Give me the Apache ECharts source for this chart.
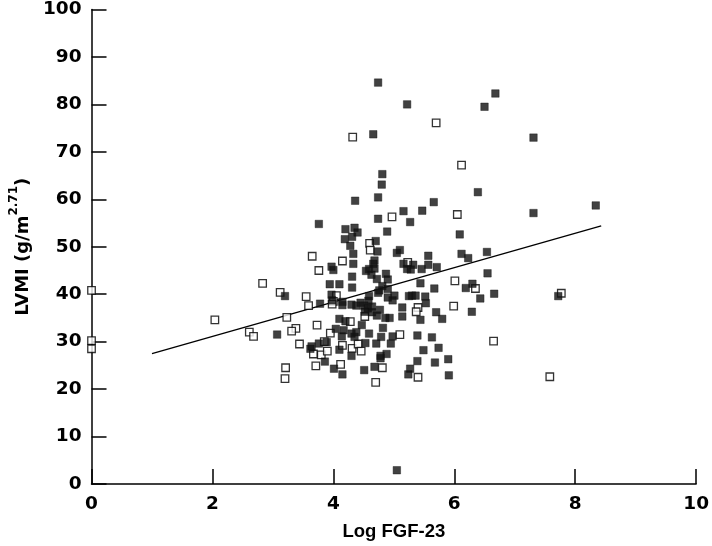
<!DOCTYPE html>
<html>
<head>
<meta charset="utf-8">
<script src="https://cdn.jsdelivr.net/npm/echarts@6/dist/echarts.min.js"></script>
<style>html,body{margin:0;padding:0;background:#fff;}#c{width:712px;height:546px;}</style>
</head>
<body>
<div id="c"></div>
<script>
// Filled squares: [Log FGF-23, LVMI]
var filledPoints = [
[4.74,84.6],[5.22,80.0],[6.68,82.3],[6.50,79.5],[4.66,73.7],[7.31,73.0],[4.81,65.3],[4.80,63.1],
[4.36,59.7],[4.74,60.4],[6.39,61.5],[5.66,59.4],[5.16,57.5],[5.47,57.6],[4.74,55.9],[5.27,55.2],
[3.76,54.8],[4.20,53.7],[4.35,54.0],[4.40,53.0],[4.89,53.2],[4.31,52.1],[4.19,51.6],[4.70,51.2],
[4.28,50.2],[4.73,49.0],[5.10,49.3],[5.05,48.7],[4.33,48.5],[5.57,48.1],[4.68,47.1],[4.66,46.4],
[5.16,46.4],[5.32,46.2],[5.57,46.2],[4.33,46.4],[3.97,45.8],[4.00,45.1],[4.59,45.3],[4.54,44.9],
[4.68,45.4],[5.22,45.3],[5.28,45.2],[5.46,45.3],[5.71,45.7],[4.63,44.1],[4.87,44.3],[4.31,43.7],
[4.72,43.2],[4.90,43.1],[5.44,42.3],[3.94,42.1],[4.10,42.1],[4.81,41.7],[4.31,41.4],[5.67,41.2],
[4.76,40.8],[4.90,41.1],[4.74,40.3],[3.20,39.6],[3.97,39.9],[4.90,39.3],[5.01,39.7],[4.59,39.6],
[5.25,39.6],[5.30,39.7],[5.36,39.7],[5.52,39.5],[3.98,38.7],[4.15,38.4],[4.58,38.6],[4.98,38.7],
[5.53,38.1],[3.78,38.0],[4.15,37.7],[4.30,37.8],[4.38,37.6],[4.45,38.2],[4.51,37.6],[4.57,37.0],
[4.64,37.4],[4.77,36.7],[5.14,37.2],[4.52,36.3],[4.64,36.2],[5.70,36.2],[4.72,35.5],[4.86,35.0],
[4.93,35.0],[5.14,35.3],[5.80,34.8],[4.10,34.8],[4.20,34.3],[5.44,34.6],[4.47,33.5],[4.82,32.9],
[4.04,32.7],[4.17,32.4],[4.30,31.7],[4.38,32.0],[4.59,31.7],[3.07,31.5],[4.98,31.1],[5.39,31.3],
[5.63,30.9],[4.14,31.1],[4.35,31.0],[4.79,31.0],[3.76,29.6],[3.89,29.9],[3.64,29.0],[3.62,28.5],
[4.10,28.3],[4.53,29.7],[4.71,29.6],[4.95,29.6],[5.49,28.2],[5.74,28.7],[4.30,27.0],[4.88,27.4],
[4.78,27.0],[4.78,26.5],[3.86,25.8],[4.01,24.3],[4.15,23.1],[4.51,24.0],[4.68,24.7],[5.39,25.9],
[5.68,25.6],[5.90,26.3],[5.27,24.3],[5.24,23.1],[5.91,22.9],[5.05,2.9],[7.31,57.1],[8.34,58.7],
[6.09,52.6],[6.12,48.5],[6.23,47.6],[6.54,48.9],[6.55,44.4],[6.30,42.2],[6.19,41.3],[6.43,39.1],
[6.66,40.1],[7.72,39.6],[6.29,36.3]
];
// Open squares: [Log FGF-23, LVMI]
var openPoints = [
[0.0,40.8],[0.0,30.2],[0.0,28.5],[2.04,34.6],[2.83,42.3],[3.12,40.4],[2.61,32.0],[2.68,31.1],
[3.65,48.0],[4.15,47.0],[3.76,45.0],[4.97,56.3],[4.60,50.7],[4.61,49.3],[5.23,46.7],[4.05,39.7],
[3.55,39.5],[4.00,38.5],[3.59,37.6],[3.98,37.9],[5.40,37.2],[5.37,36.3],[3.23,35.1],[4.52,35.3],
[4.28,34.2],[3.73,33.5],[3.38,32.8],[3.31,32.2],[3.95,31.8],[5.10,31.5],[3.85,30.0],[3.44,29.5],
[4.15,29.2],[4.31,28.6],[4.41,29.5],[4.46,28.0],[3.67,27.4],[3.80,27.2],[3.90,28.0],[3.21,24.5],
[3.71,24.9],[4.12,25.2],[4.81,24.5],[5.40,22.5],[3.20,22.2],[4.70,21.4],[6.05,56.8],[6.01,42.8],
[6.35,41.2],[7.77,40.2],[5.99,37.5],[6.65,30.1],[7.58,22.6],[5.70,76.1],[4.32,73.1],[6.12,67.2]
];
// Regression line end points
var fitX = [1.0, 8.43];
var fitY = [27.5, 54.4];
var xTicks = [0, 2, 4, 6, 8, 10];
var yTicks = [0, 10, 20, 30, 40, 50, 60, 70, 80, 90, 100];

var fitData = fitX.map(function (x, i) { return [x, fitY[i]]; });
var NUMFONT = 'DejaVu Sans';
var FONT = 'Liberation Sans';
var chart = echarts.init(document.getElementById('c'));
chart.setOption({
  animation: false,
  backgroundColor: '#fff',
  grid: { left: 85, right: 12, top: 6, bottom: 57 },
  xAxis: {
    type: 'value', min: xTicks[0], max: xTicks[xTicks.length - 1], interval: 2,
    splitLine: { show: false },
    axisLine: { onZero: false, lineStyle: { color: '#000', width: 1.5 } },
    axisTick: { inside: true, length: 15, lineStyle: { color: '#000', width: 1.5 } },
    axisLabel: { color: '#000', fontFamily: NUMFONT, fontWeight: 'bold', fontSize: 18.5, margin: 11 },
    name: 'Log FGF-23', nameLocation: 'middle', nameGap: 38,
    nameTextStyle: { color: '#000', fontFamily: FONT, fontWeight: 'bold', fontSize: 18.5 }
  },
  yAxis: {
    type: 'value', min: yTicks[0], max: yTicks[yTicks.length - 1], interval: 10,
    splitLine: { show: false },
    axisLine: { onZero: false, lineStyle: { color: '#000', width: 1.5 } },
    axisTick: { inside: true, length: 15, lineStyle: { color: '#000', width: 1.5 } },
    axisLabel: { color: '#000', fontFamily: NUMFONT, fontWeight: 'bold', fontSize: 18.5, margin: 10 },
    name: '{a|LVMI (g/m}{s|2.71}{a|)}', nameLocation: 'middle', nameGap: 57,
    nameTextStyle: {
      color: '#000',
      rich: {
        a: { fontFamily: NUMFONT, fontWeight: 'bold', fontSize: 18, color: '#000', lineHeight: 24, verticalAlign: 'bottom' },
        s: { fontFamily: NUMFONT, fontWeight: 'bold', fontSize: 12, color: '#000', lineHeight: 24, verticalAlign: 'top' }
      }
    }
  },
  series: [
    {
      type: 'line', data: fitData, showSymbol: false, symbol: 'none',
      lineStyle: { color: '#000', width: 1.3 }, z: 1
    },
    {
      type: 'scatter', data: openPoints, symbol: 'rect', symbolSize: 7.5,
      itemStyle: { color: '#fff', borderColor: '#000', borderWidth: 1.3 }, z: 2
    },
    {
      type: 'scatter', data: filledPoints, symbol: 'rect', symbolSize: 7.5,
      itemStyle: { color: '#111', borderColor: '#111', borderWidth: 0.5 }, z: 3
    }
  ]
});
</script>
</body>
</html>
